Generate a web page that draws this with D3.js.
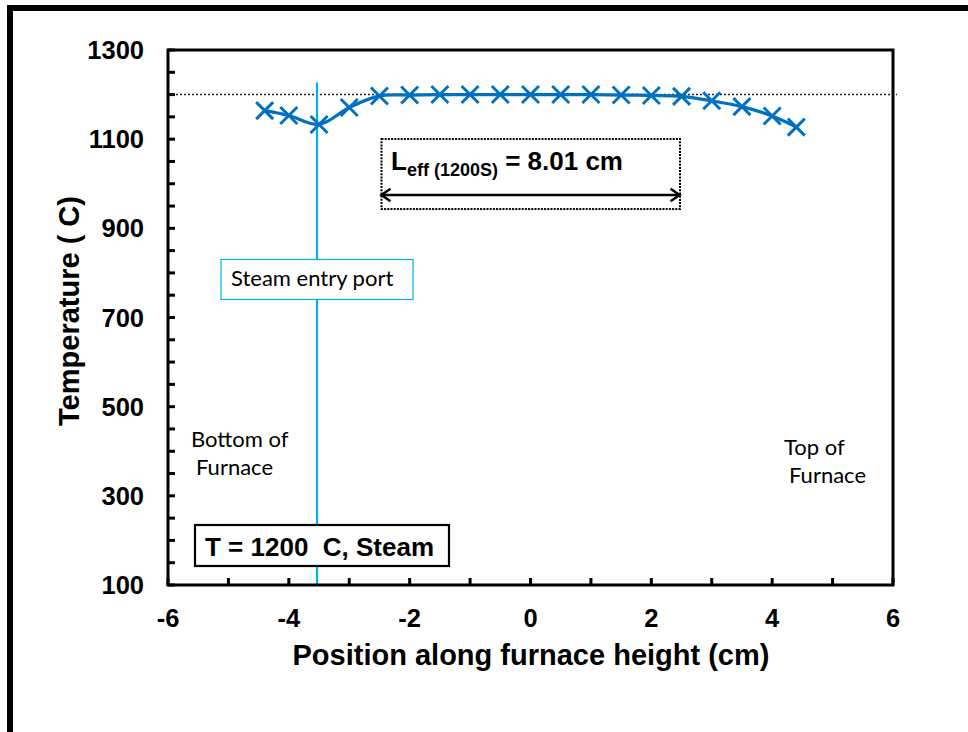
<!DOCTYPE html>
<html><head><meta charset="utf-8">
<script src="https://cdn.jsdelivr.net/npm/d3@7"></script>
<style>
body{margin:0;background:#fff;}
svg{display:block;}
text{white-space:pre;}
</style></head>
<body>
<svg id="chart" width="968" height="732"></svg>
<script>
// ---- data ----
const positions = [-4.4,-4.0,-3.5,-3.0,-2.5,-2.0,-1.5,-1.0,-0.5,0,0.5,1.0,1.5,2.0,2.5,3.0,3.5,4.0,4.4];
const temperatures = [1164,1153,1133,1171,1197,1199,1200,1200,1200,1200,1200,1200,1199,1198,1196,1186,1173,1152,1127];
const xTickLabels = [-6,-4,-2,0,2,4,6];
const yTickLabels = [100,300,500,700,900,1100,1300];
const targetTemp = [1200];
const steamPortX = [-3.5];
const steamPortTop = [1227];
const leffRange = [-2.5, 2.5];
const xTitle = "Position along furnace height (cm)";
const yTitle = "Temperature ( C)";

const svg = d3.select("#chart");
const boldFont = "'Liberation Sans', Arial, sans-serif";
const lightFont = "Lato, 'Open Sans', sans-serif";

// outer frame
svg.append("rect").attr("x",10).attr("y",8).attr("width",2000).attr("height",2000)
  .attr("fill","none").attr("stroke","#000").attr("stroke-width",6);

const L = 168, R = 893, T = 50, B = 585;
const x = d3.scaleLinear().domain([-6,6]).range([L,R]);
const y = d3.scaleLinear().domain([100,1300]).range([B,T]);

// ticks (inward)
const g = svg.append("g");
const xt = d3.range(-6,7,1), yt = d3.range(100,1301,50);
g.selectAll(".xt").data(xt).enter().append("line")
  .attr("x1",d=>x(d)).attr("x2",d=>x(d)).attr("y1",B).attr("y2",B-7)
  .attr("stroke","#000").attr("stroke-width",3);
g.selectAll(".yt").data(yt).enter().append("line")
  .attr("x1",L).attr("x2",L+7).attr("y1",d=>y(d)).attr("y2",d=>y(d))
  .attr("stroke","#000").attr("stroke-width",3);

// 1200 dotted line
svg.selectAll(".tl").data(targetTemp).enter().append("line")
  .attr("x1",L).attr("x2",R+4).attr("y1",d=>y(d)).attr("y2",d=>y(d))
  .attr("stroke","#222").attr("stroke-width",1.5).attr("stroke-dasharray","2,2");

// steam port line
svg.selectAll(".sp").data(steamPortX).enter().append("line")
  .attr("x1",d=>x(d)-2).attr("x2",d=>x(d)-2).attr("y1",y(steamPortTop[0])).attr("y2",B)
  .attr("stroke","#00B0F0").attr("stroke-width",2.2);

// frame
svg.append("path").attr("d",`M${L},${T}H${R}V${B}H${L}Z`)
  .attr("fill","none").attr("stroke","#000").attr("stroke-width",3);

// tick labels
svg.selectAll(".xl").data(xTickLabels).enter().append("text")
  .attr("x",d=>x(d)).attr("y",627).attr("text-anchor","middle")
  .attr("font-family",boldFont).attr("font-weight","bold").attr("font-size",25.5)
  .text(d=>d);
svg.selectAll(".yl").data(yTickLabels).enter().append("text")
  .attr("x",144).attr("y",d=>y(d)+9).attr("text-anchor","end")
  .attr("font-family",boldFont).attr("font-weight","bold").attr("font-size",25.5)
  .text(d=>d);

// axis titles
svg.append("text").attr("x",531).attr("y",665).attr("text-anchor","middle")
  .attr("font-family",boldFont).attr("font-weight","bold").attr("font-size",29)
  .text(xTitle);
svg.append("text").attr("transform","translate(79,311) rotate(-90)").attr("text-anchor","middle")
  .attr("font-family",boldFont).attr("font-weight","bold").attr("font-size",29)
  .text(yTitle);

// data line
const pts = positions.map((p,i)=>[p,temperatures[i]]);
svg.append("path").datum(pts)
  .attr("d",d3.line().x(d=>x(d[0])).y(d=>y(d[1])).curve(d3.curveCatmullRom.alpha(0.5)))
  .attr("fill","none").attr("stroke","#0070C0").attr("stroke-width",3.2);
const m = 8.5;
svg.selectAll(".mk").data(pts).enter().append("path")
  .attr("d",d=>{const cx=x(d[0]), cy=y(d[1]);
    return `M${cx-m},${cy-m}L${cx+m},${cy+m}M${cx-m},${cy+m}L${cx+m},${cy-m}`;})
  .attr("stroke","#0070C0").attr("stroke-width",2.9).attr("fill","none");

// Leff annotation box
svg.append("rect").attr("x",381.5).attr("y",139).attr("width",298.5).attr("height",70)
  .attr("fill","#fff").attr("stroke","#000").attr("stroke-width",2).attr("stroke-dasharray","2,1.2");
const lt = svg.append("text").attr("x",391).attr("y",169.5)
  .attr("font-family",boldFont).attr("font-weight","bold").attr("font-size",26);
lt.append("tspan").text("L");
lt.append("tspan").attr("font-size",18).attr("dy",6).text("eff (1200S)");
lt.append("tspan").attr("dy",-6).text(" = 8.01 cm");
// double arrow
const ay = 195;
svg.append("line").attr("x1",x(leffRange[0])+3).attr("x2",x(leffRange[1])-3).attr("y1",ay).attr("y2",ay)
  .attr("stroke","#000").attr("stroke-width",2.5);
const ah = 9;
svg.append("path").attr("d",`M${x(leffRange[0])+ah+2},${ay-ah*0.7}L${x(leffRange[0])+2},${ay}L${x(leffRange[0])+ah+2},${ay+ah*0.7}`)
  .attr("fill","none").attr("stroke","#000").attr("stroke-width",2.5);
svg.append("path").attr("d",`M${x(leffRange[1])-ah-2},${ay-ah*0.7}L${x(leffRange[1])-2},${ay}L${x(leffRange[1])-ah-2},${ay+ah*0.7}`)
  .attr("fill","none").attr("stroke","#000").attr("stroke-width",2.5);

// Steam entry port box
svg.append("rect").attr("x",221).attr("y",259.5).attr("width",192).attr("height",40)
  .attr("fill","#fff").attr("stroke","#00B0F0").attr("stroke-width",1.2);
svg.append("text").attr("x",231).attr("y",286).attr("font-family",lightFont).attr("font-size",22)
  .attr("fill","#000").text("Steam entry port");

// Bottom / Top of furnace
const bt = svg.append("text").attr("font-family",lightFont).attr("font-size",22).attr("fill","#000");
bt.append("tspan").attr("x",191).attr("y",447).text("Bottom of");
bt.append("tspan").attr("x",196).attr("y",475).text("Furnace");
const tt = svg.append("text").attr("font-family",lightFont).attr("font-size",22).attr("fill","#000");
tt.append("tspan").attr("x",784).attr("y",455).text("Top of");
tt.append("tspan").attr("x",789).attr("y",483).text("Furnace");

// T = 1200 C box
svg.append("rect").attr("x",195).attr("y",525).attr("width",254).attr("height",41)
  .attr("fill","#fff").attr("stroke","#000").attr("stroke-width",2.2);
svg.append("text").attr("x",205).attr("y",556).attr("font-family",boldFont).attr("font-weight","bold")
  .attr("font-size",26).text("T = 1200  C, Steam");
</script>
</body></html>
